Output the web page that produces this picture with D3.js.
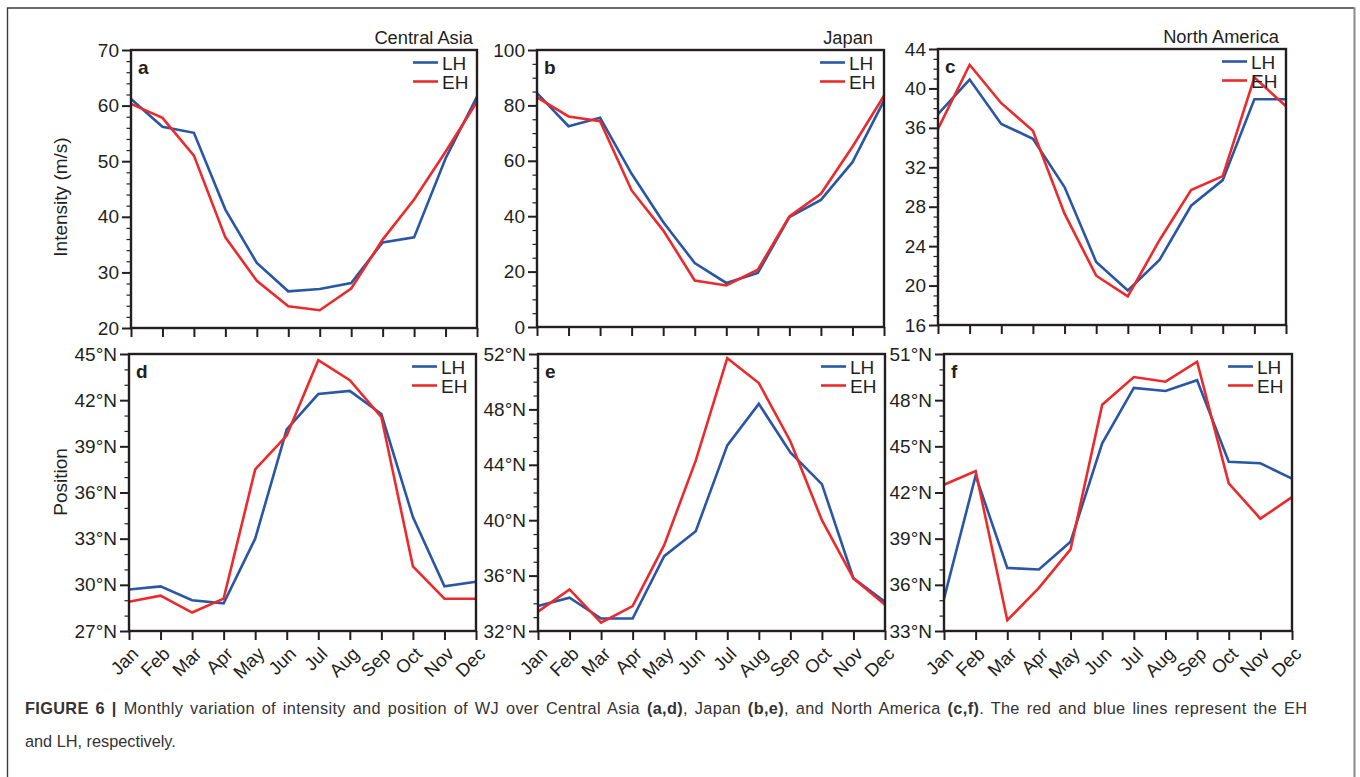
<!DOCTYPE html>
<html>
<head>
<meta charset="utf-8">
<script src="https://cdn.jsdelivr.net/npm/d3@7"></script>
<style>
  html, body { margin: 0; padding: 0; background: #fff; }
  svg { display: block; font-family: "Liberation Sans", Arial, Helvetica, sans-serif; }
</style>
</head>
<body>
<svg id="fig" width="1360" height="777"></svg>
<script>
// Month categories shared by every panel
const months = ["Jan","Feb","Mar","Apr","May","Jun","Jul","Aug","Sep","Oct","Nov","Dec"];

// Jet intensity (m/s)
const intensityCentralAsiaLH = [61.2, 56.2, 55.1, 41.3, 31.7, 26.6, 27.0, 28.1, 35.4, 36.3, 50.5, 61.6];
const intensityCentralAsiaEH = [60.3, 57.8, 51.0, 36.3, 28.5, 23.9, 23.2, 27.1, 35.9, 43.1, 51.7, 60.7];
const intensityJapanLH = [84.4, 72.5, 75.5, 55.3, 37.9, 23.1, 15.9, 19.5, 39.7, 45.9, 59.5, 81.7];
const intensityJapanEH = [82.9, 76.0, 74.3, 49.3, 34.9, 16.8, 15.0, 20.7, 39.9, 48.1, 65.1, 83.5];
const intensityNorthAmericaLH = [37.4, 40.9, 36.4, 34.9, 30.0, 22.4, 19.5, 22.6, 28.1, 30.7, 38.9, 38.9];
const intensityNorthAmericaEH = [35.9, 42.4, 38.5, 35.7, 27.3, 21.0, 18.9, 24.6, 29.7, 31.1, 41.1, 38.2];

// Jet position (degrees north)
const positionCentralAsiaLH = [29.7, 29.9, 29.0, 28.8, 33.0, 40.1, 42.4, 42.6, 41.1, 34.4, 29.9, 30.2];
const positionCentralAsiaEH = [28.9, 29.3, 28.2, 29.1, 37.5, 39.7, 44.6, 43.3, 40.9, 31.2, 29.1, 29.1];
const positionJapanLH = [33.8, 34.4, 32.9, 32.9, 37.4, 39.2, 45.4, 48.4, 44.9, 42.6, 35.8, 34.1];
const positionJapanEH = [33.4, 35.0, 32.6, 33.8, 38.2, 44.3, 51.7, 49.9, 45.7, 40.0, 35.8, 33.9];
const positionNorthAmericaLH = [35.1, 43.1, 37.1, 37.0, 38.8, 45.2, 48.8, 48.6, 49.3, 44.0, 43.9, 42.9];
const positionNorthAmericaEH = [42.5, 43.4, 33.7, 35.8, 38.3, 47.7, 49.5, 49.2, 50.5, 42.6, 40.3, 41.7];

// Y-axis tick values per panel
const ticksA = [20, 30, 40, 50, 60, 70];
const ticksB = [0, 20, 40, 60, 80, 100];
const ticksC = [16, 20, 24, 28, 32, 36, 40, 44];
const ticksD = [27, 30, 33, 36, 39, 42, 45];
const ticksE = [32, 36, 40, 44, 48, 52];
const ticksF = [33, 36, 39, 42, 45, 48, 51];

const seriesNames = ["LH", "EH"];
const regionNames = ["Central Asia", "Japan", "North America"];

const colors = { LH: "#2a56a5", EH: "#ec2a2c" };
const ink = "#231f20";
const FONT = "Liberation Sans, Arial, sans-serif";

const panels = [
  { id: "a", lh: intensityCentralAsiaLH, eh: intensityCentralAsiaEH, ticks: ticksA, minor: 2, deg: false,
    box: [131, 50, 477, 328], region: regionNames[0], regionInset: 4, xlabels: false },
  { id: "b", lh: intensityJapanLH, eh: intensityJapanEH, ticks: ticksB, minor: 5, deg: false,
    box: [537, 50, 884, 327], region: regionNames[1], regionInset: 11, xlabels: false },
  { id: "c", lh: intensityNorthAmericaLH, eh: intensityNorthAmericaEH, ticks: ticksC, minor: 1, deg: false,
    box: [938, 49, 1286, 325], region: regionNames[2], regionInset: 7, xlabels: false },
  { id: "d", lh: positionCentralAsiaLH, eh: positionCentralAsiaEH, ticks: ticksD, minor: 1, deg: true,
    box: [129, 354, 476, 631], xlabels: true },
  { id: "e", lh: positionJapanLH, eh: positionJapanEH, ticks: ticksE, minor: 1, deg: true,
    box: [538, 354, 885, 631], xlabels: true },
  { id: "f", lh: positionNorthAmericaLH, eh: positionNorthAmericaEH, ticks: ticksF, minor: 1, deg: true,
    box: [944, 354, 1292, 631], xlabels: true }
];

const svg = d3.select("#fig");

// Outer figure frame
svg.append("path")
  .attr("d", "M7.5,777 L7.5,8 L1354,8")
  .attr("fill", "none").attr("stroke", "#3a3a3a").attr("stroke-width", 1.4);
svg.append("line")
  .attr("x1", 1354.5).attr("x2", 1354.5).attr("y1", 7.3).attr("y2", 777)
  .attr("stroke", "#8a8a8a").attr("stroke-width", 2);

panels.forEach(p => {
  const [x0, y0, x1, y1] = p.box;
  const g = svg.append("g");
  const x = d3.scalePoint().domain(months).range([x0, x1]);
  const lo = p.ticks[0], hi = p.ticks[p.ticks.length - 1];
  const y = d3.scaleLinear().domain([lo, hi]).range([y1, y0]);

  const minorVals = d3.range(lo, hi + 1e-9, p.minor).filter(v => !p.ticks.includes(v));

  // minor ticks on the left
  g.append("g").attr("transform", `translate(${x0},0)`)
    .call(d3.axisLeft(y).tickValues(minorVals).tickSize(4.5).tickFormat(""))
    .call(a => a.select(".domain").remove())
    .call(a => a.selectAll("line").attr("stroke", ink).attr("stroke-width", 1.2));

  // major ticks and labels on the left
  g.append("g").attr("transform", `translate(${x0},0)`)
    .call(d3.axisLeft(y).tickValues(p.ticks).tickSize(9).tickPadding(3)
      .tickFormat(d => p.deg ? d + "°N" : d))
    .call(a => a.select(".domain").remove())
    .call(a => a.selectAll("line").attr("stroke", ink).attr("stroke-width", 2))
    .call(a => a.selectAll("text").attr("fill", ink).attr("font-size", 19)
      .attr("font-family", FONT));

  // month ticks along the bottom
  const bottom = g.append("g").attr("transform", `translate(0,${y1})`)
    .call(d3.axisBottom(x).tickSize(9).tickFormat(p.xlabels ? (d => d) : ""))
    .call(a => a.select(".domain").remove())
    .call(a => a.selectAll("line").attr("stroke", ink).attr("stroke-width", 2));
  if (p.xlabels) {
    bottom.selectAll("text")
      .attr("fill", ink).attr("font-size", 18.5)
      .attr("font-family", FONT)
      .attr("text-anchor", "end")
      .attr("x", 0).attr("y", 0).attr("dy", 0)
      .attr("transform", "translate(10,24) rotate(-45)");
  }

  // series lines
  const line = d3.line().x((d, i) => x(months[i])).y(d => y(d));
  [["LH", p.lh], ["EH", p.eh]].forEach(([name, vals]) => {
    g.append("path").datum(vals)
      .attr("d", line)
      .attr("fill", "none")
      .attr("stroke", colors[name])
      .attr("stroke-width", 2.6)
      .attr("stroke-linejoin", "miter");
  });

  // plot box
  g.append("rect")
    .attr("x", x0).attr("y", y0).attr("width", x1 - x0).attr("height", y1 - y0)
    .attr("fill", "none").attr("stroke", ink).attr("stroke-width", 2.4);

  // panel letter
  g.append("text").attr("x", x0 + 7).attr("y", y0 + 24)
    .attr("font-size", 19).attr("font-weight", "bold").attr("fill", ink).text(p.id);

  // legend
  seriesNames.forEach((name, i) => {
    const ly = y0 + 12.5 + i * 19;
    g.append("line")
      .attr("x1", x1 - 64).attr("x2", x1 - 39).attr("y1", ly).attr("y2", ly)
      .attr("stroke", colors[name]).attr("stroke-width", 2.6);
    g.append("text").attr("x", x1 - 35).attr("y", ly + 7)
      .attr("font-size", 19).attr("fill", ink).text(name);
  });

  // region title above the top row
  if (p.region) {
    g.append("text").attr("x", x1 - p.regionInset).attr("y", y0 - 6)
      .attr("text-anchor", "end").attr("font-size", 18.3).attr("fill", ink).text(p.region);
  }
});

// Y-axis titles
svg.append("text")
  .attr("transform", "translate(67,197) rotate(-90)")
  .attr("text-anchor", "middle").attr("font-size", 19).attr("fill", ink)
  .text("Intensity (m/s)");
svg.append("text")
  .attr("transform", "translate(67,482) rotate(-90)")
  .attr("text-anchor", "middle").attr("font-size", 19).attr("fill", ink)
  .text("Position");

// Caption: first line justified to the frame width, last line left-aligned
const capX = 25, capRight = 1307;
const cap = svg.append("text").attr("x", capX).attr("y", 714)
  .attr("font-size", 16.3).attr("fill", "#333")
  .style("word-spacing", "2px")
  .attr("textLength", capRight - capX)
  .attr("lengthAdjust", "spacing");
const capParts = [
  ["FIGURE 6 | ", true],
  ["Monthly variation of intensity and position of WJ over Central Asia ", false],
  ["(a,d)", true], [", Japan ", false], ["(b,e)", true],
  [", and North America ", false], ["(c,f)", true],
  [". The red and blue lines represent the EH", false]
];
capParts.forEach(([t, bold]) => {
  cap.append("tspan").attr("font-weight", bold ? "bold" : null).text(t);
});

svg.append("text").attr("x", capX).attr("y", 747)
  .attr("font-size", 16.3).attr("fill", "#333")
  .text("and LH, respectively.");
</script>
</body>
</html>
